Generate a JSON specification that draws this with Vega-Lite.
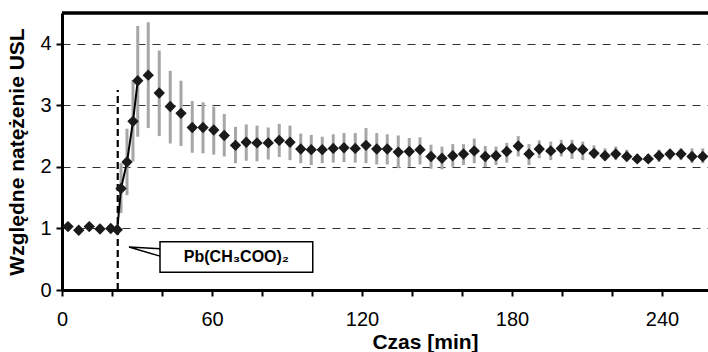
{
  "$schema": "https://vega.github.io/schema/vega-lite/v6.json",
  "width": 646,
  "height": 277,
  "autosize": "none",
  "padding": {"left": 62, "top": 13, "right": 0, "bottom": 62},
  "background": "white",
  "config": {
    "view": {"stroke": null},
    "font": "Liberation Sans",
    "axis": {"labelFont": "Liberation Sans", "titleFont": "Liberation Sans", "labelColor": "black", "titleColor": "black", "domainColor": "black", "tickColor": "black", "labelFlush": false, "labelOverlap": false}
  },
  "datasets": {
    "pts": [
      {"t": 2.4, "v": 1.03, "lo": 1.0, "hi": 1.06},
      {"t": 6.7, "v": 0.97, "lo": 0.94, "hi": 1.0},
      {"t": 10.9, "v": 1.03, "lo": 1.0, "hi": 1.06},
      {"t": 15.2, "v": 0.99, "lo": 0.96, "hi": 1.02},
      {"t": 19.5, "v": 1.0, "lo": 0.97, "hi": 1.03},
      {"t": 22.1, "v": 0.98, "lo": 0.95, "hi": 1.01},
      {"t": 23.6, "v": 1.65, "lo": 1.25, "hi": 2.06},
      {"t": 26.0, "v": 2.08, "lo": 1.54, "hi": 2.62},
      {"t": 28.4, "v": 2.74, "lo": 2.09, "hi": 3.41},
      {"t": 30.3, "v": 3.4, "lo": 2.49, "hi": 4.29},
      {"t": 34.5, "v": 3.49, "lo": 2.63, "hi": 4.35},
      {"t": 38.9, "v": 3.2, "lo": 2.5, "hi": 3.89},
      {"t": 43.3, "v": 2.98, "lo": 2.38, "hi": 3.56},
      {"t": 47.6, "v": 2.87, "lo": 2.34, "hi": 3.4},
      {"t": 52.1, "v": 2.64, "lo": 2.23, "hi": 3.07},
      {"t": 56.4, "v": 2.64, "lo": 2.22, "hi": 3.05},
      {"t": 60.7, "v": 2.6, "lo": 2.2, "hi": 2.98},
      {"t": 64.9, "v": 2.51, "lo": 2.17, "hi": 2.86},
      {"t": 69.4, "v": 2.35, "lo": 2.06, "hi": 2.65},
      {"t": 73.7, "v": 2.4, "lo": 2.1, "hi": 2.69},
      {"t": 78.0, "v": 2.39, "lo": 2.09, "hi": 2.67},
      {"t": 82.5, "v": 2.39, "lo": 2.12, "hi": 2.64},
      {"t": 86.9, "v": 2.43, "lo": 2.16, "hi": 2.7},
      {"t": 91.2, "v": 2.4, "lo": 2.11, "hi": 2.67},
      {"t": 95.5, "v": 2.29, "lo": 2.06, "hi": 2.54},
      {"t": 99.7, "v": 2.28, "lo": 2.03, "hi": 2.52},
      {"t": 104.1, "v": 2.28, "lo": 2.06, "hi": 2.49},
      {"t": 108.5, "v": 2.3, "lo": 2.07, "hi": 2.53},
      {"t": 112.8, "v": 2.31, "lo": 2.08, "hi": 2.55},
      {"t": 117.3, "v": 2.3, "lo": 2.07, "hi": 2.55},
      {"t": 121.6, "v": 2.35, "lo": 2.06, "hi": 2.63},
      {"t": 125.9, "v": 2.29, "lo": 2.04, "hi": 2.55},
      {"t": 130.1, "v": 2.29, "lo": 2.04, "hi": 2.53},
      {"t": 134.5, "v": 2.24, "lo": 1.98, "hi": 2.51},
      {"t": 138.9, "v": 2.25, "lo": 2.0, "hi": 2.47},
      {"t": 143.2, "v": 2.28, "lo": 2.04, "hi": 2.48},
      {"t": 147.6, "v": 2.17, "lo": 1.97, "hi": 2.36},
      {"t": 152.0, "v": 2.14, "lo": 1.96, "hi": 2.33},
      {"t": 156.3, "v": 2.18, "lo": 2.0, "hi": 2.37},
      {"t": 160.6, "v": 2.21, "lo": 2.03, "hi": 2.37},
      {"t": 164.9, "v": 2.26, "lo": 2.06, "hi": 2.46},
      {"t": 169.3, "v": 2.17, "lo": 2.0, "hi": 2.34},
      {"t": 173.6, "v": 2.18, "lo": 2.03, "hi": 2.33},
      {"t": 177.9, "v": 2.25, "lo": 2.07, "hi": 2.39},
      {"t": 182.5, "v": 2.34, "lo": 2.17, "hi": 2.5},
      {"t": 186.8, "v": 2.21, "lo": 2.03, "hi": 2.37},
      {"t": 190.9, "v": 2.29, "lo": 2.14, "hi": 2.43},
      {"t": 195.5, "v": 2.26, "lo": 2.11, "hi": 2.41},
      {"t": 199.7, "v": 2.3, "lo": 2.17, "hi": 2.44},
      {"t": 204.0, "v": 2.3, "lo": 2.13, "hi": 2.44},
      {"t": 208.3, "v": 2.28, "lo": 2.11, "hi": 2.41},
      {"t": 212.8, "v": 2.22, "lo": 2.14, "hi": 2.35},
      {"t": 217.2, "v": 2.18, "lo": 2.11, "hi": 2.3},
      {"t": 221.5, "v": 2.21, "lo": 2.11, "hi": 2.33},
      {"t": 225.9, "v": 2.17, "lo": 2.11, "hi": 2.28},
      {"t": 230.1, "v": 2.13, "lo": 2.06, "hi": 2.21},
      {"t": 234.5, "v": 2.13, "lo": 2.06, "hi": 2.21},
      {"t": 238.8, "v": 2.18, "lo": 2.08, "hi": 2.28},
      {"t": 243.2, "v": 2.21, "lo": 2.11, "hi": 2.28},
      {"t": 247.6, "v": 2.21, "lo": 2.11, "hi": 2.3},
      {"t": 252.0, "v": 2.17, "lo": 2.06, "hi": 2.3},
      {"t": 256.3, "v": 2.17, "lo": 2.06, "hi": 2.3}
    ],
    "marker": [{"t": 22.3, "v0": 0, "v1": 3.25}],
    "box": [{"t1": 39.2, "t2": 100.3, "v1": 0.29, "v2": 0.785, "tc": 69.75, "vc": 0.535, "label": "Pb(CH₃COO)₂"}],
    "ptr": [
      {"t": 39.2, "v": 0.67, "o": 1},
      {"t": 26.8, "v": 0.7, "o": 2},
      {"t": 39.2, "v": 0.55, "o": 3}
    ]
  },
  "layer": [
    {
      "data": {"name": "marker"},
      "mark": {"type": "rule", "color": "black", "strokeWidth": 2.2, "strokeDash": [7, 4]},
      "encoding": {
        "x": {
          "field": "t", "type": "quantitative", "title": "Czas [min]",
          "scale": {"domain": [0, 258.4], "nice": false, "zero": false},
          "axis": {
            "values": [0, 20, 40, 60, 80, 100, 120, 140, 160, 180, 200, 220, 240],
            "labelExpr": "datum.value % 60 === 0 ? datum.label : ''",
            "labelFontSize": 20, "labelPadding": 13,
            "tickSize": 6, "tickWidth": 2, "domainWidth": 3,
            "grid": false,
            "titleFontSize": 21, "titleFontWeight": "bold",
            "titleX": 363, "titleY": 58, "titleBaseline": "alphabetic", "titleAlign": "center"
          }
        },
        "y": {
          "field": "v0", "type": "quantitative", "title": "Względne natężenie USL",
          "scale": {"domain": [0, 4.5], "nice": false},
          "axis": {
            "values": [0, 0.5, 1, 1.5, 2, 2.5, 3, 3.5, 4, 4.5],
            "labelExpr": "datum.value % 1 === 0 ? toString(datum.value) : ''",
            "labelFontSize": 20, "labelPadding": 5,
            "tickSize": 6, "tickWidth": 2, "domainWidth": 3,
            "grid": true, "gridColor": "#333333", "gridWidth": 1.2, "gridDash": [8, 7],
            "gridOpacity": {"condition": {"test": "datum.value % 1 === 0 && datum.value > 0 && datum.value < 4.5", "value": 1}, "value": 0},
            "titleFontSize": 21, "titleFontWeight": "bold", "titlePadding": 12
          }
        },
        "y2": {"field": "v1"}
      }
    },
    {
      "data": {"name": "pts"},
      "mark": {"type": "rule", "color": "#a6a6a6", "strokeWidth": 3},
      "encoding": {
        "x": {"field": "t", "type": "quantitative", "title": "Czas [min]"},
        "y": {"field": "lo", "type": "quantitative", "title": "Względne natężenie USL"},
        "y2": {"field": "hi"}
      }
    },
    {
      "data": {"name": "pts"},
      "transform": [{"filter": "datum.t >= 22 && datum.t <= 31"}],
      "mark": {"type": "line", "color": "black", "strokeWidth": 2},
      "encoding": {
        "x": {"field": "t", "type": "quantitative", "title": "Czas [min]"},
        "y": {"field": "v", "type": "quantitative", "title": "Względne natężenie USL"}
      }
    },
    {
      "data": {"name": "pts"},
      "mark": {"type": "point", "shape": "diamond", "filled": true, "size": 130, "color": "#1a1a1a", "opacity": 1},
      "encoding": {
        "x": {"field": "t", "type": "quantitative", "title": "Czas [min]"},
        "y": {"field": "v", "type": "quantitative", "title": "Względne natężenie USL"}
      }
    },
    {
      "data": {"values": [{}]},
      "mark": {"type": "rule", "color": "black", "strokeWidth": 3.5},
      "encoding": {"y": {"datum": 4.5, "type": "quantitative", "title": "Względne natężenie USL"}}
    },
    {
      "data": {"name": "ptr"},
      "mark": {"type": "line", "color": "black", "strokeWidth": 1.5},
      "encoding": {
        "x": {"field": "t", "type": "quantitative", "title": "Czas [min]"},
        "y": {"field": "v", "type": "quantitative", "title": "Względne natężenie USL"},
        "order": {"field": "o"}
      }
    },
    {
      "data": {"name": "box"},
      "mark": {"type": "rect", "fill": "white", "stroke": "black", "strokeWidth": 1.5},
      "encoding": {
        "x": {"field": "t1", "type": "quantitative", "title": "Czas [min]"},
        "x2": {"field": "t2"},
        "y": {"field": "v1", "type": "quantitative", "title": "Względne natężenie USL"},
        "y2": {"field": "v2"}
      }
    },
    {
      "data": {"name": "box"},
      "mark": {"type": "text", "font": "Liberation Sans", "fontSize": 16, "fontWeight": "bold", "color": "black", "align": "center", "baseline": "middle"},
      "encoding": {
        "x": {"field": "tc", "type": "quantitative", "title": "Czas [min]"},
        "y": {"field": "vc", "type": "quantitative", "title": "Względne natężenie USL"},
        "text": {"field": "label"}
      }
    }
  ]
}
